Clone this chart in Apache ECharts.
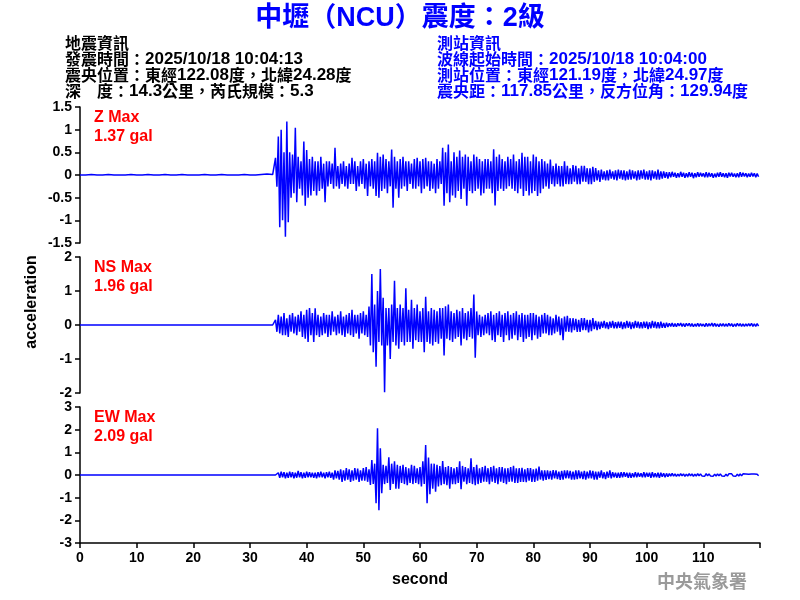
<!DOCTYPE html>
<html>
<head>
<meta charset="utf-8">
<script src="https://cdn.jsdelivr.net/npm/echarts@6/dist/echarts.min.js"></script>
<style>html,body{margin:0;padding:0;background:#fff}#c{width:800px;height:600px}</style>
</head>
<body>
<div id="c"></div>
<script>
// ---------- DATA ----------
const titleText = '中壢（NCU）震度：2級';
const quakeInfo = ['地震資訊', '發震時間：2025/10/18 10:04:13', '震央位置：東經122.08度，北緯24.28度', '深　度：14.3公里，芮氏規模：5.3'];
const stationInfo = ['測站資訊', '波線起始時間：2025/10/18 10:04:00', '測站位置：東經121.19度，北緯24.97度', '震央距：117.85公里，反方位角：129.94度'];
const panelNames = ['Z Max', 'NS Max', 'EW Max'];
const panelPeaks = ['1.37 gal', '1.96 gal', '2.09 gal'];
const xTickValues = [0, 10, 20, 30, 40, 50, 60, 70, 80, 90, 100, 110];

// pre-event noise, 1 s steps from 0 s to 33 s
const zPre = [0,0,.01,0,0,.01,0,0,0,.01,0,0,.01,0,0,.01,0,0,.01,0,0,0,.01,0,0,.01,0,0,0,.01,0,0,.01,.02];
const nsPre = [0,0,0,0,0,0,0,0,0,0,0,0,0,0,0,0,0,0,0,0,0,0,0,0,0,0,0,0,0,0,0,0,0,0];
const ewPre = [0,0,0,0,0,0,0,0,0,0,0,0,0,0,0,0,0,0,0,0,0,0,0,0,0,0,0,0,0,0,0,0,0,0];

// main record, 0.25 s steps starting at 34 s (gal)
const zMain = [
.01,-.02,.38,-.26, .85,-1.15,1.0,-1.0, .5,-1.36,1.18,-1.04, .5,-.5,.45,-.4, 1.04,-.6,.4,-.3,
.3,-.45,.74,-.68, .55,-.5,.35,-.45, .4,-.35,.3,-.45, .3,-.35,.4,-.3, .25,-.6,.3,-.25,
.3,-.2,.25,-.3, .6,-.25,.2,-.3, .25,-.2,.3,-.25, .2,-.3,.25,-.2, .38,-.2,.3,-.35,
.2,-.25,.3,-.2, .35,-.3,.25,-.46, .3,-.25,.35,-.3, .3,-.46,.49,-.5, .4,-.35,.45,-.3,
.35,-.4,.3,-.25, .56,-.72,.4,-.3, .3,-.5,.35,-.3, .4,-.25,.3,-.35, .3,-.2,.25,-.3,
.35,-.3,.38,-.25, .3,-.4,.35,-.3, .38,-.25,.3,-.35, .3,-.3,.25,-.4, .35,-.3,.3,-.2,
.6,-.68,.5,-.4, .67,-.6,.3,-.45, .5,-.5,.4,-.35, .54,-.53,.4,-.3, .45,-.68,.4,-.35,
.3,-.4,.45,-.35, .4,-.3,.35,-.45, .3,-.4,.35,-.3, .35,-.3,.3,-.4, .57,-.67,.4,-.35,
.45,-.3,.35,-.35, .3,-.3,.4,-.25, .35,-.3,.45,-.35, .3,-.4,.35,-.3, .49,-.46,.4,-.35,
.4,-.45,.3,-.4, .45,-.35,.4,-.46, .3,-.4,.35,-.3, .3,-.25,.25,-.3, .34,-.2,.2,-.25,
.25,-.2,.2,-.25, .2,-.25,.3,-.2, .2,-.2,.15,-.2, .22,-.15,.2,-.2, .15,-.2,.2,-.15,
.2,-.15,.15,-.2, .15,-.2,.18,-.15, .15,-.12,.1,-.15, .12,-.1,.08,-.12, .1,-.12,.12,-.08,
.08,-.1,.1,-.12, .12,-.08,.1,-.1, .1,-.12,.08,-.1, .12,-.1,.1,-.08, .08,-.12,.1,-.1,
.1,-.08,.12,-.1, .08,-.1,.1,-.12, .1,-.08,.08,-.1, .12,-.1,.08,-.08, .08,-.06,.06,-.08,
.06,-.05,.07,-.04, .05,-.06,.04,-.05, .07,-.04,.05,-.06, .04,-.05,.06,-.04, .05,-.07,.04,-.05,
.06,-.04,.05,-.03, .04,-.05,.06,-.05, .05,-.04,.04,-.06, .03,-.05,.05,-.04, .06,-.04,.04,-.05,
.04,-.06,.05,-.03, .05,-.04,.03,-.05, .04,-.05,.06,-.04, .05,-.03,.04,-.05, .03,-.04,.05,-.03,
.04,-.05,.03,-.04
];
const nsMain = [
0,0,.15,-.2, .3,-.25,.25,-.3, .35,-.3,.2,-.35, .3,-.2,.35,-.25, .25,-.3,.3,-.2,
.4,-.35,.3,-.4, .45,-.5,.5,-.3, .35,-.5,.49,-.3, .3,-.35,.25,-.3, .35,-.25,.3,-.35,
.3,-.3,.4,-.2, .25,-.3,.3,-.25, .4,-.3,.25,-.35, .3,-.25,.35,-.3, .45,-.35,.3,-.25,
.3,-.4,.35,-.25, .4,-.3,.3,-.35, .54,-.6,1.5,-.8, .6,-1.23,1.0,-.5, 1.65,-.6,.8,-1.98,
.5,-.6,.5,-1.0, .6,-.5,1.3,-.6, .5,-.7,.6,-.5, .5,-.6,1.08,-.5, .45,-.5,.74,-.7,
.5,-.45,.6,-.5, .4,-.5,.5,-.8, .83,-.5,.4,-.55, .5,-.6,.45,-.5, .4,-.55,.5,-.4,
.5,-.9,.55,-.4, .6,-.45,.4,-.5, .35,-.4,.45,-.35, .4,-.6,.5,-.4, .35,-.45,.4,-.35,
.5,-.4,.9,-.96, .4,-.3,.3,-.35, .25,-.3,.3,-.25, .35,-.3,.4,-.45, .3,-.5,.35,-.3,
.4,-.35,.3,-.5, .35,-.3,.4,-.45, .3,-.4,.35,-.3, .4,-.45,.3,-.35, .35,-.5,.3,-.4,
.3,-.35,.35,-.45, .35,-.3,.3,-.4, .25,-.35,.3,-.25, .35,-.25,.3,-.3, .25,-.3,.2,-.25,
.3,-.2,.25,-.3, .2,-.45,.25,-.2, .27,-.2,.2,-.22, .2,-.15,.18,-.2, .15,-.2,.2,-.15,
.2,-.15,.15,-.22, .15,-.18,.2,-.12, .12,-.15,.1,-.12, .1,-.08,.12,-.1, .08,-.12,.1,-.08,
.12,-.1,.08,-.1, .1,-.08,.1,-.12, .08,-.1,.12,-.08, .1,-.12,.08,-.1, .12,-.08,.1,-.1,
.08,-.1,.1,-.08, .1,-.12,.08,-.1, .12,-.08,.1,-.1, .08,-.1,.1,-.08, .06,-.08,.07,-.06,
.05,-.04,.06,-.05, .04,-.05,.05,-.03, .06,-.04,.04,-.05, .05,-.03,.05,-.04, .04,-.05,.03,-.04,
.05,-.04,.04,-.03, .03,-.05,.05,-.04, .04,-.03,.06,-.04, .05,-.04,.03,-.05, .04,-.03,.04,-.04,
.03,-.04,.05,-.03, .04,-.05,.03,-.04, .05,-.03,.04,-.04, .03,-.04,.03,-.03, .04,-.03,.05,-.04,
.03,-.04,.04,-.03
];
const ewMain = [
0,0,0,0, .1,-.12,.15,-.1, .12,-.15,.1,-.12, .15,-.1,.12,-.15, .1,-.12,.18,-.1,
.12,-.15,.1,-.12, .15,-.1,.12,-.1, .1,-.12,.1,-.15, .12,-.1,.15,-.1, .1,-.15,.12,-.1,
.15,-.12,.1,-.2, .2,-.15,.18,-.2, .25,-.3,.2,-.25, .3,-.2,.25,-.3, .2,-.25,.3,-.2,
.28,-.3,.2,-.25, .3,-.25,.35,-.3, .25,-.44,.66,-.4, .5,-1.25,2.06,-1.55, 1.18,-.8,.45,-.4,
.4,-.35,.78,-.66, .5,-.4,.6,-.6, .45,-.6,.4,-.35, .45,-.4,.35,-.45, .3,-.35,.45,-.4,
.4,-.35,.3,-.4, .35,-.5,.6,-.4, 1.32,-1.25,.77,-.85, .5,-.6,.5,-.74, .45,-.5,.4,-.45,
.62,-.4,.35,-.45, .4,-.6,.35,-.4, .3,-.4,.35,-.35, .6,-.63,.4,-.3, .35,-.4,.3,-.35,
.74,-.4,.35,-.45, .45,-.4,.3,-.35, .35,-.3,.4,-.3, .3,-.4,.35,-.3, .4,-.35,.3,-.4,
.35,-.3,.35,-.35, .3,-.4,.3,-.3, .35,-.3,.4,-.35, .3,-.35,.3,-.3, .32,-.3,.25,-.32,
.3,-.25,.3,-.3, .25,-.3,.28,-.25, .37,-.2,.2,-.25, .2,-.22,.2,-.18, .18,-.2,.22,-.15,
.2,-.18,.15,-.22, .18,-.2,.2,-.15, .2,-.15,.18,-.2, .15,-.2,.2,-.18, .2,-.15,.15,-.18,
.18,-.2,.15,-.15, .2,-.15,.18,-.2, .15,-.2,.15,-.12, .2,-.15,.12,-.18, .15,-.12,.2,-.15,
.12,-.1,.1,-.12, .1,-.12,.12,-.1, .12,-.08,.1,-.12, .1,-.12,.08,-.1, .12,-.1,.1,-.08,
.08,-.1,.12,-.1, .1,-.08,.1,-.12, .12,-.1,.08,-.1, .1,-.12,.1,-.08, .08,-.1,.07,-.08,
.06,-.05,.07,-.05, .05,-.06,.04,-.05, .06,-.04,.05,-.06, .04,-.05,.06,-.04, .05,-.06,.04,-.05,
.06,-.04,.05,-.04, .04,-.05,.06,-.04, .05,-.04,.04,-.05, .04,-.05,.05,-.04, .05,-.04,.04,-.05,
.04,-.05,.05,-.03, .05,-.04,.03,-.05, .04,-.05,.05,-.04, .05,-.03,.04,-.04, .03,-.04,.04,-.03,
.04,-.04,.03,-.03
];

// ---------- BUILD ----------
const preStep = 1, mainStart = 34, mainStep = 0.25;
function build(pre, main) {
  const out = [];
  pre.forEach((v, i) => out.push([i * preStep, v]));
  main.forEach((v, i) => out.push([mainStart + i * mainStep, v]));
  return out;
}
const panelData = [build(zPre, zMain), build(nsPre, nsMain), build(ewPre, ewMain)];
const yRanges = [[-1.5, 1.5, 0.5], [-2, 2, 1], [-3, 3, 1]];
const gridTops = [107, 257, 407];
const gridH = 136;

const FONT = "'Liberation Sans', Arial, 'Noto Sans CJK TC', sans-serif";
const CJK = "'Liberation Sans', 'Noto Sans CJK TC', sans-serif";

// split mixed text into rich-text runs: ASCII (bold Latin) vs CJK
function richify(s) {
  return s.match(/[\x00-\x7F]+|[^\x00-\x7F]+/g)
    .map(run => (/^[\x00-\x7F]+$/.test(run) ? '{a|' + run + '}' : '{c|' + run + '}')).join('');
}
function headerRich(color) {
  return {
    a: {fontFamily: "'Liberation Sans', Arial, sans-serif", fontWeight: 'bold', fontSize: 17, fill: color, lineHeight: 16, verticalAlign: 'middle'},
    c: {fontFamily: "'Noto Sans CJK TC', sans-serif", fontWeight: 'bold', fontSize: 16, fill: color, lineHeight: 16, verticalAlign: 'middle'}
  };
}

const chart = echarts.init(document.getElementById('c'), null, {renderer: 'canvas'});

const grids = [], xAxes = [], yAxes = [], series = [];
for (let p = 0; p < 3; p++) {
  grids.push({left: 80, top: gridTops[p], width: 680, height: gridH, containLabel: false});
  const bottom = p === 2;
  xAxes.push({
    type: 'value', gridIndex: p, min: 0, max: 120, interval: 10,
    axisLine: {show: bottom, onZero: false, lineStyle: {color: '#000', width: 1.5}},
    axisTick: {show: bottom, length: 5, lineStyle: {color: '#000', width: 1.5}},
    axisLabel: {show: bottom, margin: 8, color: '#000', fontSize: 14, fontWeight: 'bold', fontFamily: FONT,
      formatter: v => (xTickValues.indexOf(v) >= 0 ? String(v) : '')},
    splitLine: {show: false},
    name: bottom ? 'second' : '', nameLocation: 'middle', nameGap: 29,
    nameTextStyle: {color: '#000', fontSize: 16, fontWeight: 'bold', fontFamily: FONT}
  });
  yAxes.push({
    type: 'value', gridIndex: p, min: yRanges[p][0], max: yRanges[p][1], interval: yRanges[p][2],
    axisLine: {show: true, onZero: false, lineStyle: {color: '#000', width: 1.5}},
    axisTick: {show: true, length: 5, lineStyle: {color: '#000', width: 1.5}},
    axisLabel: {margin: 8, color: '#000', fontSize: 14, fontWeight: 'bold', fontFamily: FONT},
    splitLine: {show: false}
  });
  series.push({
    type: 'line', xAxisIndex: p, yAxisIndex: p, data: panelData[p],
    showSymbol: false, symbol: 'none', sampling: null, silent: true,
    lineStyle: {color: '#0000ff', width: 1.5}
  });
}

const graphics = [];
graphics.push({type: 'text', x: 400, y: 19, style: {text: titleText, fill: '#0000ff',
  font: "bold 27px " + CJK, textAlign: 'center', textVerticalAlign: 'middle'}});
quakeInfo.forEach((t, i) => graphics.push({type: 'text', x: 65, y: 43 + 16 * i,
  style: {text: richify(t), rich: headerRich('#000'), textVerticalAlign: 'middle'}}));
stationInfo.forEach((t, i) => graphics.push({type: 'text', x: 437, y: 43 + 16 * i,
  style: {text: richify(t), rich: headerRich('#0000ff'), textVerticalAlign: 'middle'}}));
for (let p = 0; p < 3; p++) {
  graphics.push({type: 'text', x: 94, y: gridTops[p] + 11, style: {text: panelNames[p], fill: '#ff0000',
    font: "bold 16px " + FONT, textVerticalAlign: 'middle'}});
  graphics.push({type: 'text', x: 94, y: gridTops[p] + 30, style: {text: panelPeaks[p], fill: '#ff0000',
    font: "bold 16px " + FONT, textVerticalAlign: 'middle'}});
}
graphics.push({type: 'text', x: 32, y: 302, rotation: Math.PI / 2, style: {text: 'acceleration', fill: '#000',
  font: "bold 16px " + FONT, textAlign: 'center', textVerticalAlign: 'middle'}});
graphics.push({type: 'text', x: 702, y: 581, style: {text: '中央氣象署', fill: '#9a9a9a',
  font: "bold 18px 'Noto Sans CJK TC', sans-serif", textAlign: 'center', textVerticalAlign: 'middle'}});

chart.setOption({
  animation: false,
  backgroundColor: '#fff',
  grid: grids, xAxis: xAxes, yAxis: yAxes, series: series,
  graphic: graphics
});
</script>
</body>
</html>
